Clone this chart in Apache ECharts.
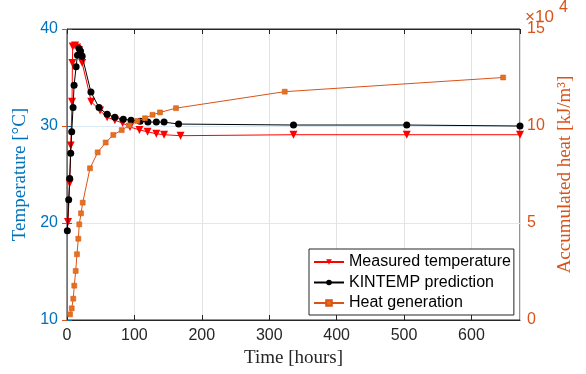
<!DOCTYPE html>
<html>
<head>
<meta charset="utf-8">
<script src="https://cdn.jsdelivr.net/npm/echarts@6/dist/echarts.min.js"></script>
<style>html,body{margin:0;padding:0;background:#fff}#c{width:586px;height:374px}</style>
</head>
<body>
<div id="c"></div>
<script>
// ---- data ----
const measuredHours = [1.5, 4.0, 5.5, 7.5, 8.0, 8.5, 12.0, 15.0, 17.5, 19.0, 20.5, 22.5, 36.0, 49.0, 59.5, 71.0, 82.5, 93.5, 107.5, 119.5, 132.5, 144.0, 168.5, 336, 504, 672];
const measuredTemp  = [20.1, 24.1, 28.0, 32.5, 36.5, 38.2, 38.3, 38.1, 37.8, 37.5, 37.1, 36.5, 32.5, 31.6, 30.9, 30.6, 30.3, 29.9, 29.6, 29.4, 29.2, 29.1, 29.0, 29.1, 29.1, 29.1];

const kintempHours = [0.5, 2.5, 4.0, 5.5, 7.0, 9.0, 10.5, 13.5, 15.5, 18.0, 20.0, 22.5, 35.5, 47.5, 59.5, 71.0, 83.5, 95.0, 108.5, 120.0, 132.5, 144.0, 165.5, 336, 504, 672];
const kintempTemp  = [19.2, 22.4, 24.6, 27.2, 29.4, 31.9, 34.2, 36.1, 37.3, 38.0, 37.7, 37.2, 33.5, 31.9, 31.2, 30.9, 30.7, 30.6, 30.5, 30.4, 30.4, 30.4, 30.2, 30.1, 30.1, 30.0];

const heatHours = [4.5, 7.0, 9.3, 10.8, 12.9, 14.8, 16.8, 18.2, 20.8, 23.3, 34.1, 45.5, 57.4, 68.7, 81.2, 92.4, 104.3, 115.7, 126.9, 138.0, 161.7, 323, 647];
const heatValue = [2900, 6000, 11000, 17700, 25300, 33900, 41900, 49300, 55000, 60500, 78200, 86400, 91500, 95400, 97900, 100300, 102600, 104000, 105800, 107000, 109200, 117700, 125000];

const xTicks = [0, 100, 200, 300, 400, 500, 600];
const tempTicks = [10, 20, 30, 40];
const heatTicks = [0, 5, 10, 15]; // x 10^4

const seriesNames = ['Measured temperature', 'KINTEMP prediction', 'Heat generation'];

// ---- chart ----
const BLUE = '#0072BD', ORANGE = '#D95319', DARK = '#262626';
const pair = (xs, ys) => xs.map((x, i) => [x, ys[i]]);
const sans = 'Liberation Sans, Arial, Helvetica, sans-serif';
const serif = 'Liberation Serif, Times New Roman, serif';

const chart = echarts.init(document.getElementById('c'), null, {renderer: 'canvas'});
chart.setOption({
  animation: false,
  backgroundColor: '#fff',
  grid: {left: 67, right: 66, top: 29, bottom: 54, show: true, borderColor: DARK, borderWidth: 1, backgroundColor: '#fff'},
  xAxis: [{
    type: 'value', min: 0, max: 672, interval: 100,
    name: 'Time [hours]', nameLocation: 'middle', nameGap: 24,
    nameTextStyle: {fontFamily: serif, fontSize: 19, color: DARK},
    axisLine: {show: true, lineStyle: {color: DARK, width: 1}},
    axisTick: {show: true, inside: true, length: 5, lineStyle: {color: DARK}},
    axisLabel: {fontFamily: sans, fontSize: 16, color: DARK, margin: 8, showMaxLabel: false,
      formatter: v => xTicks.includes(v) ? String(v) : ''},
    splitLine: {show: true, lineStyle: {color: '#e3e3e3', width: 1}}
  }, {
    type: 'value', min: 0, max: 672, interval: 100, position: 'top',
    axisLine: {show: true, lineStyle: {color: DARK, width: 1}},
    axisTick: {show: true, inside: true, length: 5, lineStyle: {color: DARK}},
    axisLabel: {show: false}, splitLine: {show: false}
  }],
  yAxis: [{
    type: 'value', min: 10, max: 40, interval: 10, position: 'left',
    name: 'Temperature [°C]', nameLocation: 'middle', nameGap: 35, nameRotate: 90,
    nameTextStyle: {fontFamily: serif, fontSize: 19, color: BLUE},
    axisLine: {show: true, lineStyle: {color: BLUE, width: 1}},
    axisTick: {show: true, inside: true, length: 5, lineStyle: {color: BLUE}},
    axisLabel: {fontFamily: sans, fontSize: 16, color: BLUE, margin: 9,
      formatter: v => tempTicks.includes(v) ? String(v) : ''},
    splitLine: {show: true, lineStyle: {color: '#d9e9f5', width: 1}}
  }, {
    type: 'value', min: 0, max: 150000, interval: 50000, position: 'right',
    name: 'Accumulated heat [kJ/m³]', nameLocation: 'middle', nameGap: 36, nameRotate: 90,
    nameTextStyle: {fontFamily: serif, fontSize: 19, color: ORANGE},
    axisLine: {show: true, lineStyle: {color: ORANGE, width: 1}},
    axisTick: {show: true, inside: true, length: 5, lineStyle: {color: ORANGE}},
    axisLabel: {fontFamily: sans, fontSize: 16, color: ORANGE, margin: 7,
      formatter: v => heatTicks.includes(v / 10000) ? String(v / 10000) : ''},
    splitLine: {show: false}
  }],
  legend: {
    orient: 'vertical', left: 309, top: 249,
    backgroundColor: '#fff', borderColor: DARK, borderWidth: 1, borderRadius: 0,
    padding: [5, 3, 4, 4], itemGap: 4.5, itemWidth: 30, itemHeight: 7,
    textStyle: {fontFamily: sans, fontSize: 16, color: '#000', lineHeight: 16},
    data: seriesNames
  },
  graphic: [
    {type: 'text', left: 525, top: 9, style: {text: '×10', font: '17px Liberation Sans, Arial', fill: ORANGE}},
    {type: 'text', left: 559, top: 0, style: {text: '4', font: '16px Liberation Sans, Arial', fill: ORANGE}}
  ],
  series: [{
    name: seriesNames[0], type: 'line', xAxisIndex: 0, yAxisIndex: 0, z: 2,
    data: pair(measuredHours, measuredTemp),
    symbol: 'triangle', symbolRotate: 180, symbolSize: 8,
    lineStyle: {color: '#FF0000', width: 1}, itemStyle: {color: '#FF0000', borderWidth: 0}
  }, {
    name: seriesNames[1], type: 'line', xAxisIndex: 0, yAxisIndex: 0, z: 3,
    data: pair(kintempHours, kintempTemp),
    symbol: 'circle', symbolSize: 7,
    lineStyle: {color: '#000', width: 1}, itemStyle: {color: '#000', borderWidth: 0}
  }, {
    name: seriesNames[2], type: 'line', xAxisIndex: 0, yAxisIndex: 1, z: 4,
    data: pair(heatHours, heatValue),
    symbol: 'rect', symbolSize: 5,
    lineStyle: {color: ORANGE, width: 1}, itemStyle: {color: '#E2721B', borderColor: ORANGE, borderWidth: 0.5}
  }]
});
</script>
</body>
</html>
